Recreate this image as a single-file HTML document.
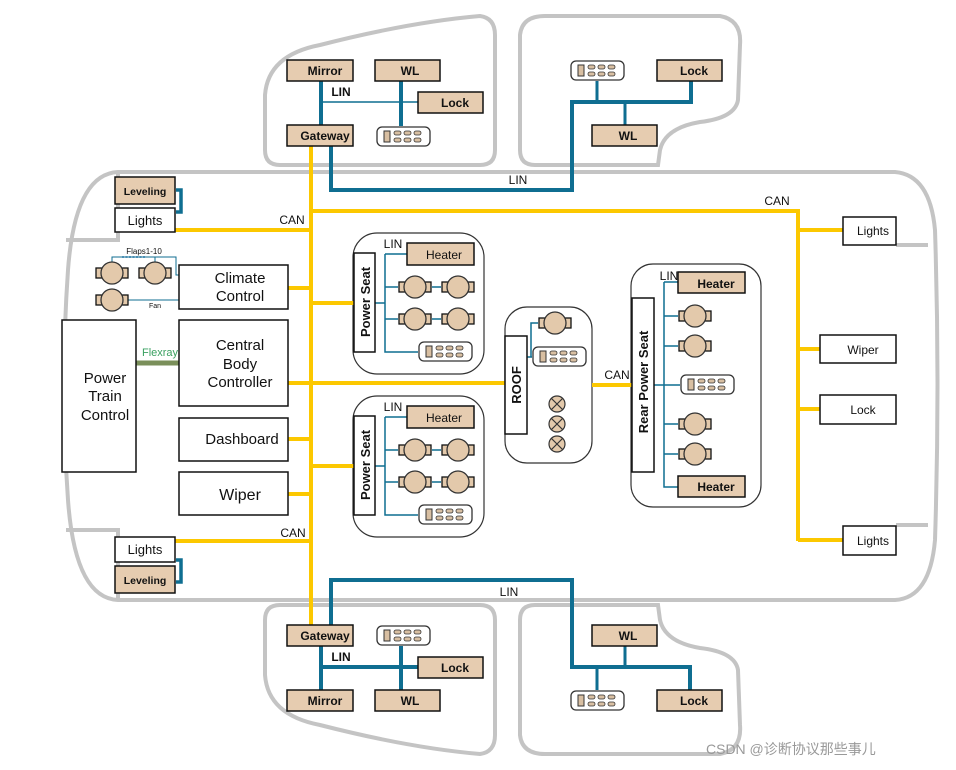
<!DOCTYPE html>
<html><head><meta charset="utf-8"><style>
html,body{margin:0;padding:0;background:#fff;width:956px;height:770px;overflow:hidden}
svg{display:block;font-family:"Liberation Sans",Arial,sans-serif}
</style></head><body>
<svg width="956" height="770" viewBox="0 0 956 770" xmlns="http://www.w3.org/2000/svg">
<defs>
<symbol id="sw" viewBox="0 0 55 21" width="55" height="21">
<rect x="1" y="1" width="53" height="19" rx="5" fill="#fff" stroke="#333" stroke-width="1.3"/>
<rect x="8" y="5" width="6" height="11" fill="#d8bfa2" stroke="#333" stroke-width="1"/>
<rect x="18" y="5" width="7" height="4" rx="2" fill="#d8bfa2" stroke="#333" stroke-width=".8"/>
<rect x="28" y="5" width="7" height="4" rx="2" fill="#d8bfa2" stroke="#333" stroke-width=".8"/>
<rect x="38" y="5" width="7" height="4" rx="2" fill="#d8bfa2" stroke="#333" stroke-width=".8"/>
<rect x="18" y="12" width="7" height="4" rx="2" fill="#d8bfa2" stroke="#333" stroke-width=".8"/>
<rect x="28" y="12" width="7" height="4" rx="2" fill="#d8bfa2" stroke="#333" stroke-width=".8"/>
<rect x="38" y="12" width="7" height="4" rx="2" fill="#d8bfa2" stroke="#333" stroke-width=".8"/>
</symbol>
<symbol id="mo" viewBox="0 0 34 24" width="34" height="24">
<rect x="1" y="7" width="6" height="10" fill="#e3c9ab" stroke="#111" stroke-width="1.3"/>
<rect x="27" y="7" width="6" height="10" fill="#e3c9ab" stroke="#111" stroke-width="1.3"/>
<circle cx="17" cy="12" r="11" fill="#e3c9ab" stroke="#333" stroke-width="1.3"/>
</symbol>
<symbol id="lp" viewBox="0 0 18 18" width="18" height="18">
<circle cx="9" cy="9" r="8" fill="#e3c9ab" stroke="#333" stroke-width="1.2"/>
<path d="M3.5 3.5L14.5 14.5M14.5 3.5L3.5 14.5" stroke="#333" stroke-width="1.2"/>
</symbol>
</defs>

<!-- car outline -->
<g fill="none" stroke="#c4c4c4" stroke-width="4">
<path d="M280 165 Q265 165 265 150 L265 95 Q268 55 320 45 Q410 22 480 16 Q495 18 495 35 L495 150 Q495 165 480 165 Z"/>
<path d="M535 165 Q520 165 520 150 L520 35 Q522 16 545 16 L720 16 Q742 20 740 45 L738 100 Q735 118 700 122 Q665 128 660 150 L658 165 Z"/>
<path d="M280 605 Q265 605 265 620 L265 675 Q268 715 320 725 Q410 748 480 754 Q495 752 495 735 L495 620 Q495 605 480 605 Z"/>
<path d="M535 605 Q520 605 520 620 L520 735 Q522 754 545 754 L720 754 Q742 750 740 725 L738 670 Q735 652 700 648 Q665 642 660 620 L658 605 Z"/>
<path d="M118 172 L895 172 Q930 175 935 230 Q940 385 935 540 Q930 598 895 600 L118 600 Q75 598 68 500 Q60 385 68 270 Q75 174 118 172 Z"/>
<path d="M66 240 L118 240 L118 172"/>
<path d="M66 530 L118 530 L118 600"/>
<path d="M896 245 L928 245"/>
<path d="M896 525 L928 525"/>
</g>

<!-- containers -->
<g fill="#fff" stroke="#333" stroke-width="1.2">
<rect x="353" y="233" width="131" height="141" rx="24"/>
<rect x="353" y="396" width="131" height="141" rx="24"/>
<rect x="505" y="307" width="87" height="156" rx="22"/>
<rect x="631" y="264" width="130" height="243" rx="22"/>
</g>

<!-- yellow CAN -->
<g stroke="#fcc800" stroke-width="4" fill="none">
<path d="M311 146 L311 625"/>
<path d="M311 211 L798 211 L798 541"/>
<path d="M175 230 L311 230"/>
<path d="M175 541 L311 541"/>
<path d="M288 288 L311 288"/>
<path d="M288 383 L506 383"/>
<path d="M288 439 L311 439"/>
<path d="M288 494 L311 494"/>
<path d="M311 303 L354 303"/>
<path d="M311 466 L354 466"/>
<path d="M592 385 L632 385"/>
<path d="M798 230 L843 230"/>
<path d="M798 349 L820 349"/>
<path d="M798 409 L820 409"/>
<path d="M798 540 L843 540"/>
</g>

<!-- blue LIN -->
<g stroke="#0f6e91" fill="none">
<path d="M331 146 L331 190 L572 190 L572 102 L691 102 L691 81" stroke-width="4"/>
<path d="M597 102 L597 81 M625 102 L625 125" stroke-width="3"/>
<path d="M321 81 L321 125 M401 81 L401 126" stroke-width="4"/>
<path d="M321 102 L418 102" stroke-width="1.5"/>
<path d="M331 625 L331 580 L572 580 L572 667 L690 667 L690 690" stroke-width="4"/>
<path d="M597 667 L597 690 M625 667 L625 646" stroke-width="3"/>
<path d="M321 646 L321 690 M401 646 L401 690 M321 667 L418 667" stroke-width="4"/>
<path d="M176 190 L181 190 L181 212 L176 212" stroke-width="3.5"/>
<path d="M176 560 L181 560 L181 582 L176 582" stroke-width="3.5"/>
<path d="M112 262 L112 257 L155 257 L155 262 M155 257 L176 257 L176 275 L179 275 M123 300 L179 300" stroke-width="1"/>
<path d="M122 257 L146 257" stroke="#4b8fb5" stroke-width="2" stroke-dasharray="2 1.5"/>
<path d="M375 303 L385 303 M385 254 L385 352 L418 352 M385 254 L407 254 M385 287 L398 287 M385 319 L398 319 M432 287 L441 287 M432 319 L441 319" stroke-width="1.5"/>
<path d="M375 466 L385 466 M385 417 L385 515 L418 515 M385 417 L407 417 M385 450 L398 450 M385 482 L398 482 M432 450 L441 450 M432 482 L441 482" stroke-width="1.5"/>
<path d="M527 357 L532 357 M531 357 L531 323 L538 323" stroke-width="1.5"/>
<path d="M654 385 L664 385 M664 282 L664 487 L678 487 M664 282 L678 282 M664 316 L678 316 M664 346 L678 346 M664 385 L680 385 M664 424 L678 424 M664 454 L678 454" stroke-width="1.5"/>
</g>
<path d="M136 363 L179 363" stroke="#7a8f5a" stroke-width="5"/>

<!-- boxes -->
<g stroke="#111" stroke-width="1.5">
<g fill="#e6ccb0">
<rect x="287" y="60" width="66" height="21"/><rect x="375" y="60" width="65" height="21"/>
<rect x="418" y="92" width="65" height="21"/><rect x="287" y="125" width="66" height="21"/>
<rect x="657" y="60" width="65" height="21"/><rect x="592" y="125" width="65" height="21"/>
<rect x="287" y="625" width="66" height="21"/><rect x="418" y="657" width="65" height="21"/>
<rect x="287" y="690" width="66" height="21"/><rect x="375" y="690" width="65" height="21"/>
<rect x="592" y="625" width="65" height="21"/><rect x="657" y="690" width="65" height="21"/>
<rect x="115" y="177" width="60" height="27"/><rect x="115" y="566" width="60" height="27"/>
<rect x="407" y="243" width="67" height="22"/><rect x="407" y="406" width="67" height="22"/>
<rect x="678" y="272" width="67" height="21"/><rect x="678" y="476" width="67" height="21"/>
</g>
<g fill="#fff">
<rect x="115" y="208" width="60" height="24"/><rect x="115" y="537" width="60" height="25"/>
<rect x="179" y="265" width="109" height="44"/><rect x="179" y="320" width="109" height="86"/>
<rect x="179" y="418" width="109" height="43"/><rect x="179" y="472" width="109" height="43"/>
<rect x="62" y="320" width="74" height="152"/>
<rect x="354" y="253" width="21" height="99"/><rect x="354" y="416" width="21" height="99"/>
<rect x="505" y="336" width="22" height="98"/><rect x="632" y="298" width="22" height="174"/>
<rect x="843" y="217" width="53" height="28"/><rect x="820" y="335" width="76" height="28"/>
<rect x="820" y="395" width="76" height="29"/><rect x="843" y="526" width="53" height="29"/>
</g>
</g>

<use href="#sw" x="376" y="126"/><use href="#sw" x="570" y="60"/>
<use href="#sw" x="376" y="625"/><use href="#sw" x="570" y="690"/>
<use href="#sw" x="418" y="341"/><use href="#sw" x="418" y="504"/>
<use href="#sw" x="532" y="346"/><use href="#sw" x="680" y="374"/>

<use href="#mo" x="95" y="261"/><use href="#mo" x="138" y="261"/><use href="#mo" x="95" y="288"/>
<use href="#mo" x="398" y="275"/><use href="#mo" x="441" y="275"/><use href="#mo" x="398" y="307"/><use href="#mo" x="441" y="307"/>
<use href="#mo" x="398" y="438"/><use href="#mo" x="441" y="438"/><use href="#mo" x="398" y="470"/><use href="#mo" x="441" y="470"/>
<use href="#mo" x="538" y="311"/>
<use href="#mo" x="678" y="304"/><use href="#mo" x="678" y="334"/><use href="#mo" x="678" y="412"/><use href="#mo" x="678" y="442"/>
<use href="#lp" x="548" y="395"/><use href="#lp" x="548" y="415"/><use href="#lp" x="548" y="435"/>

<g font-weight="bold" fill="#111" text-anchor="middle" font-size="12">
<text x="325" y="75">Mirror</text><text x="410" y="75">WL</text><text x="455" y="107">Lock</text>
<text x="325" y="140">Gateway</text><text x="694" y="75">Lock</text><text x="628" y="140">WL</text>
<text x="325" y="640">Gateway</text><text x="455" y="672">Lock</text><text x="325" y="705">Mirror</text>
<text x="410" y="705">WL</text><text x="628" y="640">WL</text><text x="694" y="705">Lock</text>
<text x="145" y="195" font-size="10.5">Leveling</text><text x="145" y="584" font-size="10.5">Leveling</text>
<text x="145" y="225" font-weight="normal" font-size="13">Lights</text><text x="145" y="554" font-weight="normal" font-size="13">Lights</text>
<text x="240" y="283" font-weight="normal" font-size="15">Climate</text><text x="240" y="301" font-weight="normal" font-size="15">Control</text>
<text x="240" y="350" font-weight="normal" font-size="15">Central</text><text x="240" y="369" font-weight="normal" font-size="15">Body</text><text x="240" y="387" font-weight="normal" font-size="15">Controller</text>
<text x="242" y="444" font-size="15" font-weight="normal">Dashboard</text>
<text x="240" y="500" font-size="16" font-weight="normal">Wiper</text>
<text x="105" y="383" font-size="15" font-weight="normal">Power</text><text x="105" y="401" font-size="15" font-weight="normal">Train</text><text x="105" y="420" font-size="15" font-weight="normal">Control</text>
<text x="444" y="259" font-weight="normal" font-size="12">Heater</text><text x="444" y="422" font-weight="normal" font-size="12">Heater</text>
<text x="716" y="288">Heater</text><text x="716" y="491">Heater</text>
<text x="873" y="235" font-weight="normal" font-size="12">Lights</text><text x="863" y="354" font-weight="normal" font-size="12">Wiper</text>
<text x="863" y="414" font-weight="normal" font-size="12">Lock</text><text x="873" y="545" font-weight="normal" font-size="12">Lights</text>
<text x="341" y="96" font-size="12">LIN</text><text x="341" y="661" font-size="12">LIN</text>
<text x="518" y="184" font-weight="normal" font-size="12">LIN</text><text x="509" y="596" font-weight="normal" font-size="12">LIN</text>
<text x="292" y="224" font-weight="normal" font-size="12">CAN</text><text x="777" y="205" font-weight="normal" font-size="12">CAN</text>
<text x="293" y="537" font-weight="normal" font-size="12">CAN</text><text x="617" y="379" font-weight="normal" font-size="12">CAN</text>
<text x="393" y="248" font-weight="normal" font-size="12">LIN</text><text x="393" y="411" font-weight="normal" font-size="12">LIN</text>
<text x="669" y="280" font-weight="normal" font-size="12">LIN</text>
<text x="144" y="254" font-weight="normal" font-size="8">Flaps1-10</text><text x="155" y="308" font-weight="normal" font-size="7">Fan</text>
<text x="160" y="356" font-weight="normal" font-size="11" fill="#3aa060">Flexray</text>
<text transform="translate(370,302) rotate(-90)" font-size="13">Power Seat</text>
<text transform="translate(370,465) rotate(-90)" font-size="13">Power Seat</text>
<text transform="translate(521,385) rotate(-90)" font-size="13">ROOF</text>
<text transform="translate(648,382) rotate(-90)" font-size="13">Rear Power Seat</text>
</g>
<text x="706" y="754" font-size="14" fill="#999" font-family="Liberation Sans,'Noto Sans CJK SC',sans-serif">CSDN @诊断协议那些事儿</text>
</svg>
</body></html>
